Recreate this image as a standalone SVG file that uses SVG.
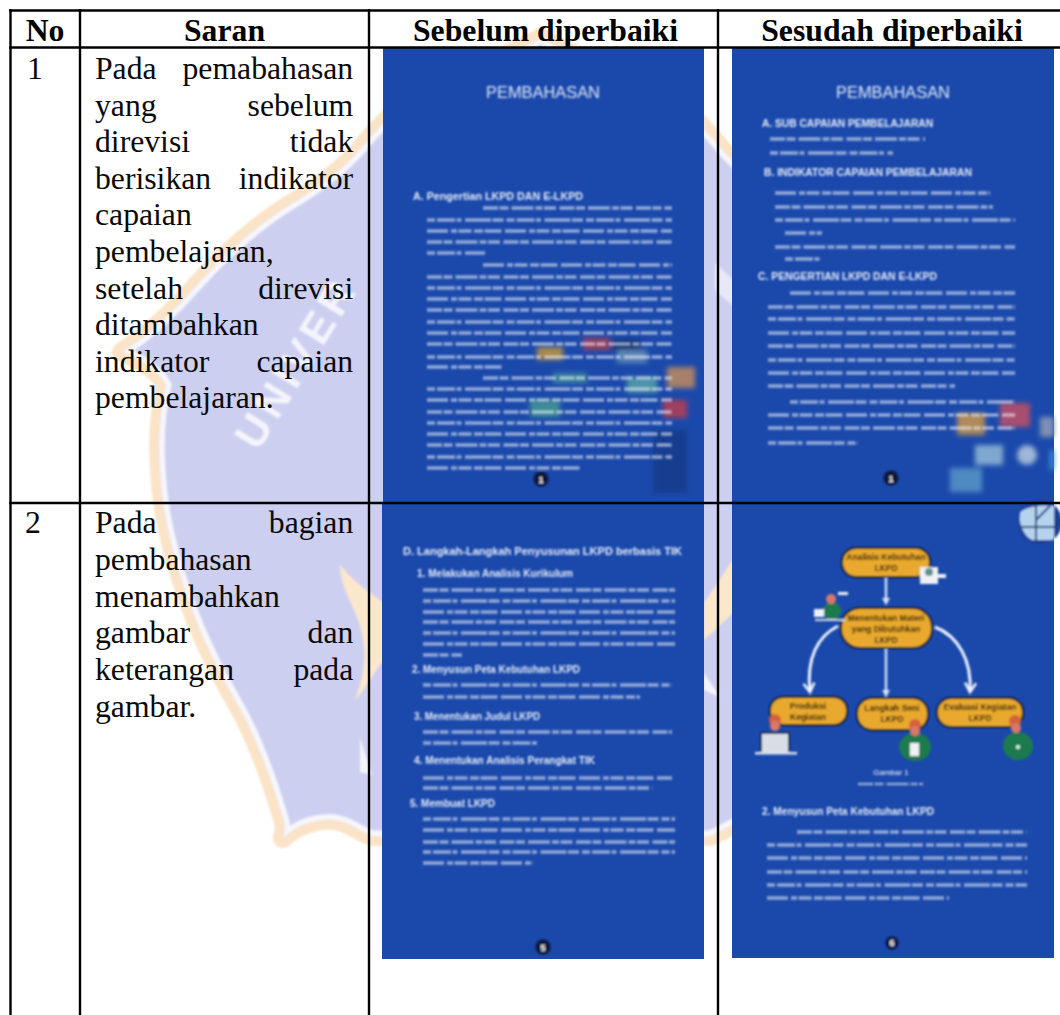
<svg xmlns="http://www.w3.org/2000/svg" width="1060" height="1015" viewBox="0 0 1060 1015">
<style>
.t{font-family:"Liberation Serif","Times New Roman",serif;font-size:31.7px;fill:#0a0a0a}
.h{font-family:"Liberation Serif","Times New Roman",serif;font-size:31.7px;font-weight:700;fill:#000;text-anchor:middle}
.rule{stroke:#000;stroke-width:2.4;fill:none}
.page{fill:#1b49ab}
.title{font-family:"Liberation Sans",Arial,sans-serif;font-size:16.4px;fill:#dfe7f6;text-anchor:middle}
.sub{font-family:"Liberation Sans",Arial,sans-serif;font-size:10px;font-weight:700;fill:#e6edfa}
.num{font-family:"Liberation Sans",Arial,sans-serif;font-size:9px;font-weight:700;fill:#fff;text-anchor:middle}
.g1,.g2,.g3{fill:none;stroke:#e8eefa;stroke-width:3.6;opacity:.58}
.g1{stroke-dasharray:15 1.5 9 3 22 2 7 1.5 12 3.5}
.g2{stroke-dasharray:8 2 18 1.5 5 3.5 26 1.5 11 3}
.g3{stroke-dasharray:21 3 6 1.5 13 2.5 9 1.5 17 3.5}
.dot{fill:#08133d}
.box{fill:#e8a92e;stroke:#14172f;stroke-width:2}
.lbl{font-family:"Liberation Sans",Arial,sans-serif;font-size:8.5px;font-weight:700;fill:#2a1c08;text-anchor:middle}
.arr{fill:none;stroke:#eef4fc;stroke-width:3}
.str{fill:none;stroke:#d5e3f6;stroke-width:2.4}
.skin{fill:#d8786a}.hair{fill:#d8603a}.body{fill:#1d7a50}.paper{fill:#eef1f6}
</style>
<defs>
<filter id="soft" x="-5%" y="-5%" width="110%" height="110%"><feGaussianBlur stdDeviation="0.8"/></filter>
<filter id="mid" x="-10%" y="-10%" width="120%" height="120%"><feGaussianBlur stdDeviation="1"/></filter>
<filter id="icon" x="-30%" y="-30%" width="160%" height="160%"><feGaussianBlur stdDeviation="2.4"/></filter>
<filter id="wm" x="-5%" y="-5%" width="110%" height="110%"><feGaussianBlur stdDeviation="1.1"/></filter>
<marker id="vee" markerWidth="13" markerHeight="13" refX="10" refY="6.5" orient="auto" markerUnits="userSpaceOnUse"><path d="M1 1L10 6.5L1 12" fill="none" stroke="#eef4fc" stroke-width="2.6"/></marker>
<marker id="tri" markerWidth="8" markerHeight="8" refX="6" refY="4" orient="auto" markerUnits="userSpaceOnUse"><path d="M0 0L7 4L0 8Z" fill="#d5e3f6"/></marker>
<path id="shield" d="M541 38C500 62 440 78 400 108C385 120 378 130 368 140C345 170 315 190 285 208C250 230 215 265 197 285C180 305 150 335 122 352C140 358 160 372 166 385C160 410 158 440 160 470C162 510 170 540 178 568C195 625 215 665 238 705C255 735 270 775 282 815C286 825 285 832 283 838C295 826 315 818 335 820C350 822 360 832 372 836L710 836C722 832 732 822 747 820C767 818 787 826 799 838C797 832 796 825 800 815C812 775 827 735 844 705C867 665 887 625 904 568C912 540 920 510 922 470C924 440 922 410 916 385C922 372 942 358 960 352C932 335 902 305 885 285C867 265 832 230 797 208C767 190 737 170 714 140C704 130 697 120 682 108C642 78 582 62 541 38Z"/>
<clipPath id="inside"><use href="#shield"/></clipPath>
<path id="wmtext" d="M258 452L400 222"/>
</defs>
<rect width="1060" height="1015" fill="#fff"/>

<g id="watermark" filter="url(#wm)">
<use href="#shield" fill="none" stroke="#fae3c6" stroke-width="20" stroke-linejoin="round"/>
<use href="#shield" fill="#cdcff0"/>
<use href="#shield" fill="none" stroke="#f6f6fd" stroke-width="11" clip-path="url(#inside)"/>
<path d="M340 565C352 580 372 595 384 603L384 660C375 670 365 690 355 700C362 680 368 660 362 635C358 610 340 590 340 565Z" fill="#fbe7cb"/>
<path d="M734 558L704 603L704 640L734 612Z" fill="#fbe7cb"/>
<path d="M704 673L720 697L704 690Z" fill="#f4f4fb"/>
<path d="M360 738L372 775L360 772Z" fill="#f4f4fb"/>
<path d="M715 263L734 280L734 307L715 290Z" fill="#e8e8f8"/>
<text font-family="'Liberation Sans',Arial,sans-serif" font-size="43" font-weight="700" fill="#f4f4fc" letter-spacing="5"><textPath href="#wmtext">UNIVER</textPath></text>
</g>

<g id="table-text">
<text class="h" x="45" y="41">No</text>
<text class="h" x="224.5" y="41">Saran</text>
<text class="h" x="545.5" y="41">Sebelum diperbaiki</text>
<text class="h" x="892" y="41">Sesudah diperbaiki</text>
<text class="t" x="27" y="79">1</text>
<text class="t" x="95" y="79" word-spacing="18">Pada pemabahasan</text>
<text class="t" x="95" y="115.6" word-spacing="83.1">yang sebelum</text>
<text class="t" x="95" y="152.2" word-spacing="91.9">direvisi tidak</text>
<text class="t" x="95" y="188.8" word-spacing="19.7">berisikan indikator</text>
<text class="t" x="95" y="225.4">capaian</text>
<text class="t" x="95" y="262">pembelajaran,</text>
<text class="t" x="95" y="298.6" word-spacing="67.3">setelah direvisi</text>
<text class="t" x="95" y="335.2">ditambahkan</text>
<text class="t" x="95" y="371.8" word-spacing="39.1">indikator capaian</text>
<text class="t" x="95" y="408.4">pembelajaran.</text>
<text class="t" x="25" y="533.3">2</text>
<text class="t" x="95" y="533.3" word-spacing="104.3">Pada bagian</text>
<text class="t" x="95" y="570">pembahasan</text>
<text class="t" x="95" y="606.6">menambahkan</text>
<text class="t" x="95" y="643.3" word-spacing="109.6">gambar dan</text>
<text class="t" x="95" y="680" word-spacing="51.5">keterangan pada</text>
<text class="t" x="95" y="716.7">gambar.</text>
</g>

<g id="page-sebelum-1">
<rect class="page" x="383" y="48" width="321" height="455"/>
<g filter="url(#icon)">
<rect x="537" y="347" width="26" height="13" fill="#a88a50"/>
<rect x="583" y="338" width="27" height="12" fill="#9a3f5e"/>
<rect x="612" y="340" width="28" height="10" fill="#14306f"/>
<rect x="617" y="350" width="30" height="13" fill="#5d86b8"/>
<rect x="667" y="367" width="28" height="21" fill="#a8806a"/>
<rect x="553" y="373" width="34" height="10" fill="#3f86a0"/>
<rect x="627" y="377" width="30" height="16" fill="#4e94a8"/>
<rect x="530" y="400" width="30" height="17" fill="#3e8c96"/>
<rect x="663" y="400" width="24" height="18" fill="#a0405e"/>
<rect x="653" y="430" width="34" height="63" fill="#153c90"/>
</g>
<g filter="url(#soft)">
<text class="title" x="543" y="98">PEMBAHASAN</text>
<text class="sub" x="413" y="200" textLength="170" lengthAdjust="spacingAndGlyphs">A. Pengertian LKPD DAN E-LKPD</text>
<path class="g1" d="M483 208H672M427 242H672M427 277H672M427 310H672M427 344H672M483 378H672M427 412H672M427 445H672"/>
<path class="g2" d="M427 220H672M427 253H485M427 288H672M427 322H672M427 357H672M427 389H672M427 423H672M427 457H672"/>
<path class="g3" d="M427 231H672M483 265H672M427 299H672M427 333H672M427 367H503M427 400H672M427 434H672M427 468H580"/>
<circle class="dot" cx="541" cy="479" r="7.5"/>
<text class="num" x="541" y="482.5">1</text>
</g>
</g>

<g id="page-sesudah-1">
<rect class="page" x="732" y="48" width="322" height="455"/>
<g filter="url(#icon)">
<rect x="1000" y="403" width="30" height="24" fill="#a84f70"/>
<rect x="957" y="413" width="28" height="22" fill="#b08a5a"/>
<rect x="1040" y="417" width="14" height="20" fill="#7f8fb4"/>
<rect x="975" y="445" width="28" height="20" fill="#7fa8cf"/>
<circle cx="1027" cy="455" r="10" fill="#9fb6d6"/>
<rect x="950" y="468" width="32" height="24" fill="#4f8ac2"/>
<rect x="1050" y="450" width="4" height="20" fill="#3f90d8"/>
</g>
<g filter="url(#soft)">
<text class="title" x="893" y="98">PEMBAHASAN</text>
<text class="sub" x="762" y="127" textLength="171" lengthAdjust="spacingAndGlyphs">A. SUB CAPAIAN PEMBELAJARAN</text>
<text class="sub" x="764" y="176" textLength="208" lengthAdjust="spacingAndGlyphs">B. INDIKATOR CAPAIAN PEMBELAJARAN</text>
<text class="sub" x="758" y="280" textLength="179" lengthAdjust="spacingAndGlyphs">C. PENGERTIAN LKPD DAN E-LKPD</text>
<path class="g1" d="M770 139H925M775 207H993M775 247H1015M768 307H1015M768 346H1015M768 386H955M768 428H1015"/>
<path class="g2" d="M770 153H893M775 220H1015M785 259H822M768 319H1015M768 360H1015M790 402H1015M768 443H858"/>
<path class="g3" d="M775 193H990M785 233H822M790 293H1015M768 333H1015M768 373H1015M768 415H1015"/>
<circle class="dot" cx="891" cy="478" r="7.5"/>
<text class="num" x="891" y="481.5">1</text>
</g>
</g>

<g id="page-sebelum-2">
<rect class="page" x="382" y="503" width="322" height="456"/>
<g filter="url(#soft)">
<text class="sub" x="403" y="555" textLength="279" lengthAdjust="spacingAndGlyphs">D. Langkah-Langkah Penyusunan LKPD berbasis TIK</text>
<text class="sub" x="417" y="577" textLength="156" lengthAdjust="spacingAndGlyphs">1. Melakukan Analisis Kurikulum</text>
<text class="sub" x="412" y="673" textLength="168" lengthAdjust="spacingAndGlyphs">2. Menyusun Peta Kebutuhan LKPD</text>
<text class="sub" x="414" y="720" textLength="126" lengthAdjust="spacingAndGlyphs">3. Menentukan Judul LKPD</text>
<text class="sub" x="414" y="764" textLength="181" lengthAdjust="spacingAndGlyphs">4. Menentukan Analisis Perangkat TIK</text>
<text class="sub" x="410" y="807" textLength="85" lengthAdjust="spacingAndGlyphs">5. Membuat LKPD</text>
<path class="g1" d="M423 590H675M423 622H675M423 655H462M423 732H672M423 788H653M423 842H675"/>
<path class="g2" d="M423 601H675M423 633H675M423 685H672M423 743H540M423 819H675M423 852H675"/>
<path class="g3" d="M423 612H675M423 644H675M423 697H640M423 778H672M423 830H675M423 863H533"/>
<circle class="dot" cx="543" cy="947" r="7.5"/>
<text class="num" x="543" y="950.5">5</text>
</g>
</g>

<g id="page-sesudah-2">
<rect class="page" x="732" y="503" width="322" height="455"/>
<g filter="url(#mid)">
<circle cx="1040" cy="522" r="22" fill="#1a4094"/>
<path d="M1020 512C1030 505 1045 505 1054 506V540H1032C1024 536 1018 524 1020 512Z" fill="#b6d3ed"/>
<path d="M1036 506V540M1021 527H1054M1036 520L1050 506" stroke="#1f3f80" stroke-width="2" fill="none"/>
</g>
<g id="figure" filter="url(#soft)">
<g id="connectors">
<path class="str" d="M886 577V604" marker-end="url(#tri)"/>
<path class="str" d="M886 648V696" marker-end="url(#tri)"/>
<path class="arr" d="M838 626C818 636 806 658 810 692" marker-end="url(#vee)"/>
<path class="arr" d="M935 627C958 636 972 660 970 692" marker-end="url(#vee)"/>
</g>
<g id="node-analisis">
<rect class="box" x="842" y="548" width="88" height="29" rx="14"/>
<text class="lbl" x="886" y="560">Analisis Kebutuhan</text>
<text class="lbl" x="886" y="571">LKPD</text>
</g>
<g id="node-materi">
<rect class="box" x="841" y="608" width="91" height="40" rx="19"/>
<text class="lbl" x="886" y="621">Menentukan Materi</text>
<text class="lbl" x="886" y="632">yang Dibutuhkan</text>
<text class="lbl" x="886" y="643">LKPD</text>
</g>
<g id="node-produksi">
<rect class="box" x="770" y="697" width="77" height="28" rx="13"/>
<text class="lbl" x="808" y="709">Produksi</text>
<text class="lbl" x="808" y="720">Kegiatan</text>
</g>
<g id="node-langkah">
<rect class="box" x="857" y="698" width="71" height="32" rx="15"/>
<text class="lbl" x="892" y="711">Langkah Seni</text>
<text class="lbl" x="892" y="722">LKPD</text>
</g>
<g id="node-evaluasi">
<rect class="box" x="937" y="698" width="86" height="29" rx="14"/>
<text class="lbl" x="980" y="710">Evaluasi Kegiatan</text>
<text class="lbl" x="980" y="721">LKPD</text>
</g>
<g id="figures">
<rect class="paper" x="920" y="567" width="18" height="17"/><circle cx="929" cy="572" r="4" fill="#5d8f8a"/><rect class="paper" x="936" y="574" width="10" height="4"/>
<ellipse class="body" cx="832" cy="611" rx="9" ry="9"/><circle class="skin" cx="831" cy="599" r="5"/><rect class="paper" x="814" y="609" width="10" height="8"/><rect class="paper" x="838" y="592" width="10" height="3"/><rect x="815" y="619" width="30" height="2" fill="#cfd9ec"/>
<circle class="hair" cx="775" cy="720" r="6"/><circle class="skin" cx="775" cy="726" r="5"/><rect x="760" y="732" width="30" height="20" fill="#1a2f55"/><rect class="paper" x="762" y="734" width="26" height="18" fill-opacity=".9"/><rect x="755" y="752" width="42" height="2.5" fill="#dbe3f2"/>
<ellipse class="body" cx="915" cy="747" rx="16" ry="14"/><circle class="hair" cx="915" cy="725" r="6"/><circle class="skin" cx="915" cy="731" r="5"/><rect class="paper" x="910" y="743" width="9" height="13"/>
<ellipse class="body" cx="1018" cy="746" rx="15" ry="14"/><circle class="hair" cx="1015" cy="721" r="6"/><circle class="skin" cx="1016" cy="728" r="5"/><circle cx="1018" cy="747" r="2" fill="#dfe"/>
</g>
<text class="num" x="891" y="775" style="font-size:8px;font-weight:400">Gambar 1</text>
</g>
<g filter="url(#soft)">
<path class="g1" d="M858 784H923" style="stroke-width:2.4"/>
<text class="sub" x="762" y="815" textLength="172" lengthAdjust="spacingAndGlyphs">2. Menyusun Peta Kebutuhan LKPD</text>
<path class="g1" d="M797 832H1027M767 872H1027"/>
<path class="g2" d="M767 845H1027M767 885H1027"/>
<path class="g3" d="M767 858H1027M767 898H949"/>
<circle class="dot" cx="892" cy="943" r="6.5"/>
<text class="num" x="892" y="946">6</text>
</g>
</g>

<g id="table-rules">
<path class="rule" d="M9 10.5H1060M9 47.5H1060M9 503H1060"/>
<path class="rule" d="M10.5 9V1015M80 9V1015M369 9V1015M718 9V1015"/>
</g>
</svg>
